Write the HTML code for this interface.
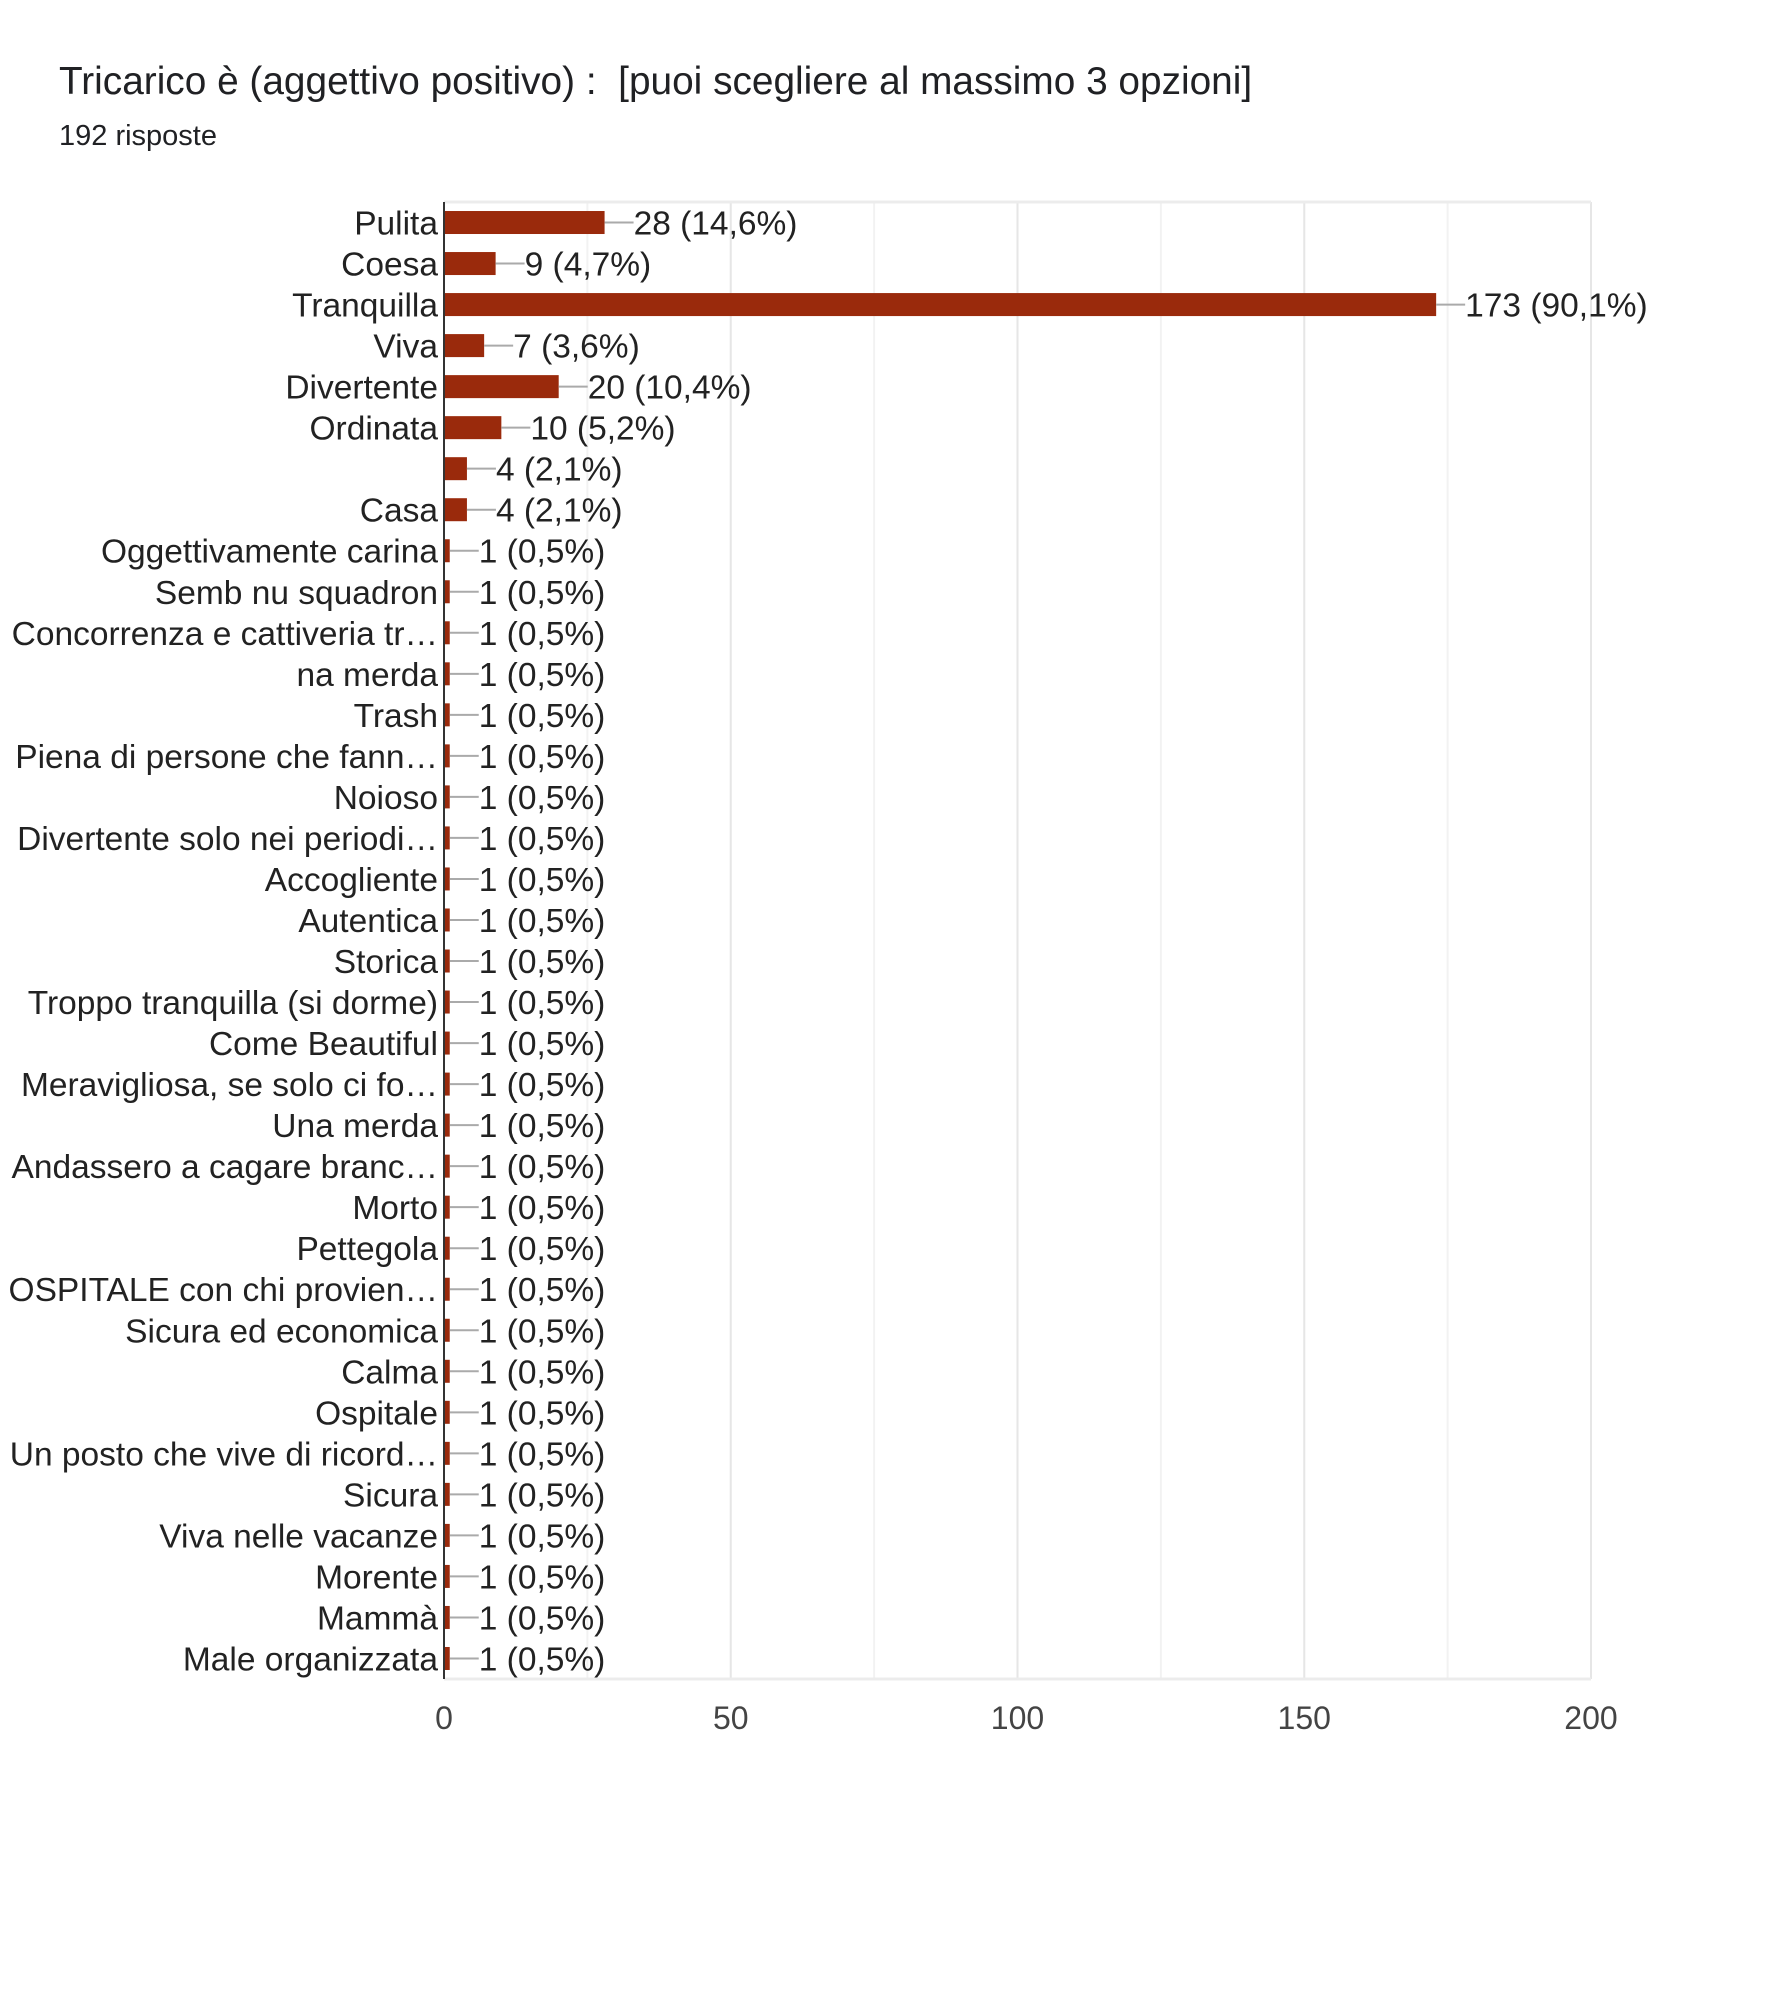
<!DOCTYPE html>
<html><head><meta charset="utf-8">
<style>
html,body{margin:0;padding:0;background:#fff;}
body{width:1768px;height:1999px;position:relative;overflow:hidden;font-family:"Liberation Sans",Arial,sans-serif;}
#title{position:absolute;left:59px;top:60px;font-size:38.8px;color:#202124;white-space:nowrap;}
#sub{position:absolute;left:59px;top:120px;font-size:29px;color:#202124;}
svg{position:absolute;left:0;top:0;}
</style></head>
<body>
<div id="title">Tricarico è (aggettivo positivo) :&nbsp; [puoi scegliere al massimo 3 opzioni]</div>
<div id="sub">192 risposte</div>
<svg id="chart" width="1768" height="1999"></svg>
<script>
const categories = ["Pulita","Coesa","Tranquilla","Viva","Divertente","Ordinata","","Casa","Oggettivamente carina","Semb nu squadron","Concorrenza e cattiveria tr…","na merda","Trash","Piena di persone che fann…","Noioso","Divertente solo nei periodi…","Accogliente","Autentica","Storica","Troppo tranquilla (si dorme)","Come Beautiful","Meravigliosa, se solo ci fo…","Una merda","Andassero a cagare branc…","Morto","Pettegola","OSPITALE con chi provien…","Sicura ed economica","Calma","Ospitale","Un posto che vive di ricord…","Sicura","Viva nelle vacanze","Morente","Mammà","Male organizzata"];
const values = [28,9,173,7,20,10,4,4,1,1,1,1,1,1,1,1,1,1,1,1,1,1,1,1,1,1,1,1,1,1,1,1,1,1,1,1];
const percents = ["14,6%","4,7%","90,1%","3,6%","10,4%","5,2%","2,1%","2,1%","0,5%","0,5%","0,5%","0,5%","0,5%","0,5%","0,5%","0,5%","0,5%","0,5%","0,5%","0,5%","0,5%","0,5%","0,5%","0,5%","0,5%","0,5%","0,5%","0,5%","0,5%","0,5%","0,5%","0,5%","0,5%","0,5%","0,5%","0,5%"];
const ticks = [0,50,100,150,200];

const svg = document.getElementById('chart');
const NS = 'http://www.w3.org/2000/svg';
const X0 = 444, X1 = 1591, Y0 = 202, Y1 = 1679, MAX = 200;
const xs = v => X0 + (X1 - X0) * v / MAX;
const band = (Y1 - Y0) / categories.length;
const yc = i => Y0 + band * (i + 0.5);
function mk(tag, attrs, txt){ const e = document.createElementNS(NS, tag); for (const k in attrs) e.setAttribute(k, attrs[k]); if (txt !== undefined) e.textContent = txt; svg.appendChild(e); return e; }

for (let v = 0; v <= MAX; v += 25) {
  const g = mk('line', {x1: xs(v), x2: xs(v), y1: Y0, y2: Y1, stroke: v % 50 === 0 ? '#e6e6e6' : '#f2f2f2', 'stroke-width': 2});
  
  
}
const topBorder = mk('line', {x1: X0, x2: X1, y1: Y0, y2: Y0, stroke: '#ececec', 'stroke-width': 3});


const botBorder = mk('line', {x1: X0, x2: X1, y1: Y1, y2: Y1, stroke: '#ececec', 'stroke-width': 3});



ticks.forEach(t => {
  const e = mk('text', {x: xs(t), y: Y1 + 50, 'text-anchor': 'middle', 'font-size': 32, fill: '#444', 'font-family': 'Liberation Sans, sans-serif'}, String(t));
  
  
});

categories.forEach((c, i) => {
  const y = yc(i), v = values[i], bh = 23;
  const bar = mk('rect', {x: X0, y: y - bh / 2, width: xs(v) - X0, height: bh, fill: '#9a2a0c'});
  
  
  const ln = mk('line', {x1: xs(v), x2: xs(v) + 29, y1: y, y2: y, stroke: '#aaa', 'stroke-width': 2});
  
  
  const vl = mk('text', {x: xs(v) + 29, y: y + 12, 'font-size': 33.5, fill: '#222', 'font-family': 'Liberation Sans, sans-serif'}, v + ' (' + percents[i] + ')');
  
  
  const cl = mk('text', {x: X0 - 6, y: y + 12, 'text-anchor': 'end', 'font-size': 33.5, fill: '#222', 'font-family': 'Liberation Sans, sans-serif'}, c);
  
  
});
const ax = mk('line', {x1: X0, x2: X0, y1: Y0, y2: Y1, stroke: '#333', 'stroke-width': 2});


</script>
</body></html>
